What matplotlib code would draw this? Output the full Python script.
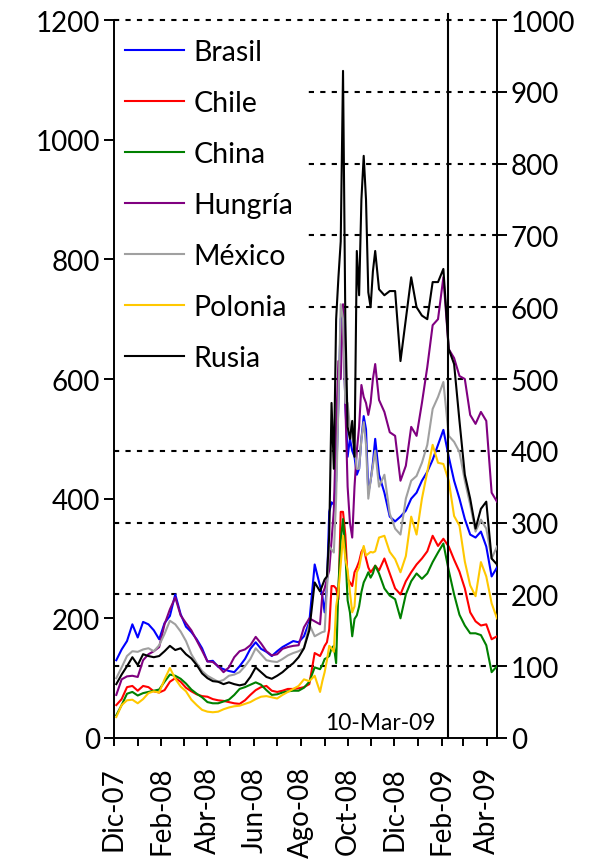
import matplotlib
matplotlib.use('Agg')
import matplotlib.pyplot as plt
import pandas as pd

# fechas de las observaciones: semanal, cada 3 dias en la crisis (sep-nov 08), semanal otra vez
fechas = (list(pd.date_range('2007-12-04', periods=39, freq='7D'))
          + list(pd.date_range('2008-08-29', periods=24, freq='3D'))
          + list(pd.date_range('2008-11-11', periods=23, freq='7D')))

paises = ['Brasil', 'Chile', 'China', 'Hungría', 'México', 'Polonia', 'Rusia']
colores = ['#0000FF', '#FF0000', '#008000', '#800080', '#A0A0A0', '#FFC800', '#000000']

brasil = [130, 148, 162, 190, 168, 194, 190, 180, 165, 192, 204, 240, 207, 186, 177, 165, 150, 128, 129, 119,
          115, 112, 110, 120, 132, 149, 160, 149, 144, 137, 145, 152, 157, 162, 160, 170, 194, 290, 254,
          237, 210, 254, 378, 394, 390, 430, 560, 700, 720, 560, 470, 500, 480, 470, 440, 450, 500, 538, 516,
          410, 430, 460, 500,
          440, 410, 370, 362, 370, 380, 400, 410, 430, 445, 465, 490, 515, 470, 430, 400, 366, 340, 335, 345,
          320, 270, 285]
chile = [55, 65, 85, 87, 79, 87, 85, 78, 76, 80, 94, 100, 94, 84, 78, 73, 70, 69, 65, 63,
         62, 60, 58, 57, 63, 72, 80, 85, 87, 79, 77, 79, 82, 82, 83, 85, 90, 142, 137,
         145, 154, 160, 182, 254, 254, 250, 232, 378, 378, 340, 266, 260, 254, 277, 285, 295, 311, 318, 300,
         285, 277, 282, 288,
         280, 300, 275, 250, 240, 262, 277, 290, 300, 312, 338, 321, 333, 320, 298, 278, 250, 210, 195, 188,
         190, 165, 170]
china = [38, 55, 74, 77, 71, 75, 77, 79, 81, 94, 106, 104, 99, 91, 81, 74, 68, 60, 58, 58,
         61, 64, 72, 82, 85, 89, 93, 89, 80, 72, 73, 76, 78, 79, 79, 84, 94, 118, 115,
         122, 132, 134, 137, 150, 154, 125, 254, 330, 366, 311, 230, 210, 170, 199, 205, 220, 244, 260, 268,
         277, 268, 275, 288,
         275, 250, 238, 232, 200, 240, 262, 275, 266, 275, 294, 310, 325, 280, 240, 206, 188, 175, 175, 172,
         155, 110, 120]
hungria = [72, 98, 103, 104, 102, 130, 140, 145, 152, 190, 215, 235, 205, 192, 180, 163, 146, 128, 127, 120,
           110, 118, 135, 145, 148, 155, 169, 158, 145, 138, 140, 149, 152, 154, 155, 185, 200, 195, 190,
           240, 250, 266, 280, 330, 380, 520, 630, 600, 725, 560, 420, 360, 335, 420, 480, 520, 590, 570, 560,
           540, 560, 600, 625,
           565, 545, 511, 505, 430, 455, 520, 505, 560, 620, 690, 700, 770, 650, 635, 605, 600, 540, 525, 545,
           530, 410, 395]
mexico = [100, 118, 137, 145, 144, 148, 150, 145, 155, 174, 196, 190, 178, 162, 140, 125, 112, 104, 99, 94,
          97, 104, 106, 110, 120, 132, 150, 140, 130, 128, 127, 132, 138, 142, 145, 150, 190, 170, 175,
          177, 178, 250, 320, 315, 310, 400, 560, 725, 700, 560, 560, 520, 500, 488, 450, 450, 500, 528, 490,
          400, 430, 455, 480,
          420, 440, 375, 350, 340, 400, 430, 438, 460, 490, 550, 570, 595, 505, 495, 478, 430, 390, 345, 365,
          350, 300, 320]
polonia = [35, 55, 63, 64, 58, 65, 75, 78, 76, 98, 117, 99, 86, 78, 64, 55, 47, 44, 43, 44,
           48, 51, 53, 54, 57, 60, 65, 69, 70, 68, 66, 72, 77, 82, 87, 98, 95, 104, 77,
           95, 110, 130, 154, 150, 144, 220, 245, 290, 338, 300, 280, 244, 210, 220, 277, 285, 305, 321, 305,
           308, 311, 310, 312,
           335, 338, 311, 299, 277, 304, 370, 340, 400, 445, 490, 460, 458, 430, 371, 355, 295, 255, 237, 294,
           270, 225, 200]
rusia = [90, 106, 120, 135, 122, 140, 137, 135, 137, 145, 154, 147, 150, 140, 133, 122, 108, 100, 95, 94,
         90, 93, 90, 88, 90, 102, 118, 110, 102, 99, 104, 110, 118, 125, 135, 150, 180, 260, 245,
         255, 265, 270, 340, 560, 450, 700, 770, 830, 1115, 700, 520, 500, 530, 470, 814, 740, 900, 973, 900,
         745, 720, 780, 814,
         750, 740, 747, 747, 630, 700, 770, 720, 706, 700, 762, 762, 784, 650, 625, 530, 440, 400, 350, 383,
         395, 300, 290]
series = [brasil, chile, china, hungria, mexico, polonia, rusia]

ticks_izq = list(range(0, 1201, 200))
ticks_der = list(range(0, 1001, 100))
meses = list(pd.date_range('2007-12-01', '2009-04-01', freq='MS'))
etiquetas_x = ['Dic-07', 'Feb-08', 'Abr-08', 'Jun-08', 'Ago-08', 'Oct-08', 'Dic-08', 'Feb-09', 'Abr-09']
fecha_evento = pd.Timestamp('2009-02-09')
texto_evento = '10-Mar-09'

plt.rcParams['font.family'] = ['Lato', 'DejaVu Sans']

fig = plt.figure(figsize=(5.98, 8.62), dpi=100)
ax = fig.add_axes([0.1906, 0.1427, 0.6405, 0.8329])

for nombre, valores, color in zip(paises, series, colores):
    ax.plot(fechas, valores, color=color, lw=1.5, label=nombre)

# lineas punteadas en los ticks del eje derecho
for r in ticks_der[1:]:
    ax.axhline(r * 1.2, color='black', lw=1.5, ls=(0, (2.5, 3)), zorder=0.5, clip_on=False)

ax.axvline(fecha_evento, color='black', lw=1.5, ymax=1.008, clip_on=False)
ax.annotate(texto_evento, xy=(fecha_evento, 0), xytext=(-9, 6.5), textcoords='offset points',
            ha='right', va='baseline', fontsize=16.5)

ax.set_xlim(pd.Timestamp('2007-12-01'), pd.Timestamp('2009-04-14'))
ax.set_ylim(0, 1200)
ax.set_yticks(ticks_izq)
ax.set_xticks(meses)
lab = []
for i in range(len(meses)):
    lab.append(etiquetas_x[i // 2] if i % 2 == 0 else '')
ax.set_xticklabels(lab, rotation=90)

ax.spines['top'].set_visible(False)
ax.spines['right'].set_visible(False)
for s in ['left', 'bottom']:
    ax.spines[s].set_linewidth(1.4)
    ax.spines[s].set_zorder(6)
ax.tick_params(axis='y', length=7, width=1.4, labelsize=20, pad=3)
ax.tick_params(axis='x', length=6, width=1.4, labelsize=20, pad=14)

sec = ax.secondary_yaxis('right', functions=(lambda v: v / 1.2, lambda r: r * 1.2))
sec.set_yticks(ticks_der)
sec.tick_params(length=7, width=1.4, labelsize=20, pad=3)
sec.spines['right'].set_linewidth(1.4)

ax.legend(loc='upper left', bbox_to_anchor=(0.0, 0.99), frameon=True, fancybox=False,
          edgecolor='none', facecolor='white', framealpha=1, fontsize=20.5,
          handlelength=2.07, handletextpad=0.32, labelspacing=0.88, borderpad=0.4,
          borderaxespad=0)

fig.savefig('out.png', dpi=100)
